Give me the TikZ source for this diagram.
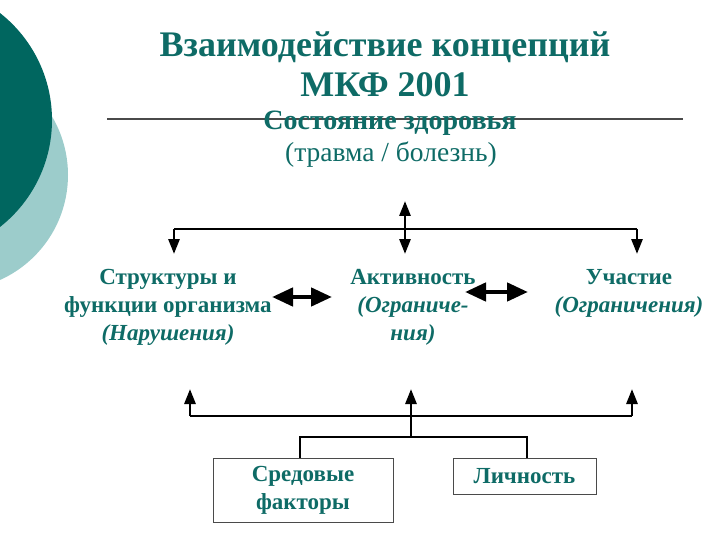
\documentclass[tikz,border=0pt]{standalone}
\usepackage{fontspec}
\setmainfont{Liberation Serif}
\usetikzlibrary{arrows.meta}
\definecolor{tealtxt}{HTML}{0E6B66}
\definecolor{darkcirc}{HTML}{00665F}
\definecolor{lightcirc}{HTML}{9CCCCB}
\definecolor{rulegray}{HTML}{4A4A4A}
\tikzset{
  txt/.style={text=tealtxt, align=center, inner sep=0pt},
  conn/.style={draw=black, line width=2.8pt},
  tip/.style={-{Triangle[length=15pt,width=11pt]}},
  dtip/.style={{Triangle[length=15pt,width=11pt]}-{Triangle[length=15pt,width=11pt]}},
  fat/.style={line width=4.5pt, {Triangle[length=21pt,width=18pt]}-{Triangle[length=21pt,width=18pt]}},
  box/.style={draw=rulegray, line width=1pt, fill=white, text=tealtxt, align=center, font=\bfseries\fontsize{23}{28}\selectfont}
}
\begin{document}
\begin{tikzpicture}[x=1pt,y=-1pt]
\useasboundingbox (0,0) rectangle (720,540);
% decorative circles
\fill[lightcirc] (-47,175) circle (115pt);
\fill[darkcirc] (-84,120) circle (136pt);
% title
\node[txt, font=\bfseries\fontsize{36}{40}\selectfont] (title) at (385,64) {Взаимодействие концепций\\МКФ 2001};
\coordinate (ruleL) at (107,119);
\coordinate (ruleR) at (683,119);
\draw[rulegray, line width=1.2pt] (ruleL) -- (ruleR);
\node[txt, font=\bfseries\fontsize{28}{30}\selectfont] (health) at (390,123) {Состояние здоровья};
\node[txt, font=\fontsize{27.5}{30}\selectfont] (trauma) at (391,155) {(травма / болезнь)};
% top distribution
\coordinate (vTop) at (405,201);
\coordinate (vBot) at (405,254);
\coordinate (barL) at (174,229);
\coordinate (barR) at (637,229);
\coordinate (downL) at (174,254);
\coordinate (downR) at (637,254);
\draw[conn] (barL) -- (barR);
\draw[conn, tip] (barL) -- (downL);
\draw[conn, tip] (barR) -- (downR);
\draw[conn, dtip] (vTop) -- (vBot);
% middle row
\node[txt, font=\bfseries\fontsize{23}{28}\selectfont] (struct) at (168,307) {Структуры и\\функции организма\\\textit{(Нарушения)}};
\node[txt, font=\bfseries\fontsize{23}{28}\selectfont] (activ) at (413,307) {Активность\\\textit{(Ограниче-}\\\textit{ния)}};
\node[txt, font=\bfseries\fontsize{23}{28}\selectfont] (partic) at (629,293) {Участие\\\textit{(Ограничения)}};
\coordinate (a1) at (272,297);
\coordinate (a2) at (332,297);
\coordinate (b1) at (465,292);
\coordinate (b2) at (528,292);
\draw[fat] (a1) -- (a2);
\draw[fat] (b1) -- (b2);
% bottom
\node[box, minimum width=180pt, minimum height=64pt] (env) at (303,490) {Средовые\\факторы};
\node[box, minimum width=143pt, minimum height=36pt] (pers) at (524.5,476) {Личность};
\coordinate (upL) at (190,389);
\coordinate (upM) at (411,389);
\coordinate (upR) at (632,389);
\coordinate (lbarL) at (190,416);
\coordinate (lbarM) at (411,416);
\coordinate (lbarR) at (632,416);
\coordinate (jM) at (411,437);
\coordinate (jL) at (300,437);
\coordinate (jR) at (527,437);
\draw[conn] (lbarL) -- (lbarR);
\draw[conn, tip] (lbarL) -- (upL);
\draw[conn, tip] (lbarR) -- (upR);
\draw[conn, tip] (jM) -- (upM);
\draw[conn] (env.north -| jL) -- (jL) -- (jR) -- (pers.north -| jR);
\end{tikzpicture}
\end{document}
